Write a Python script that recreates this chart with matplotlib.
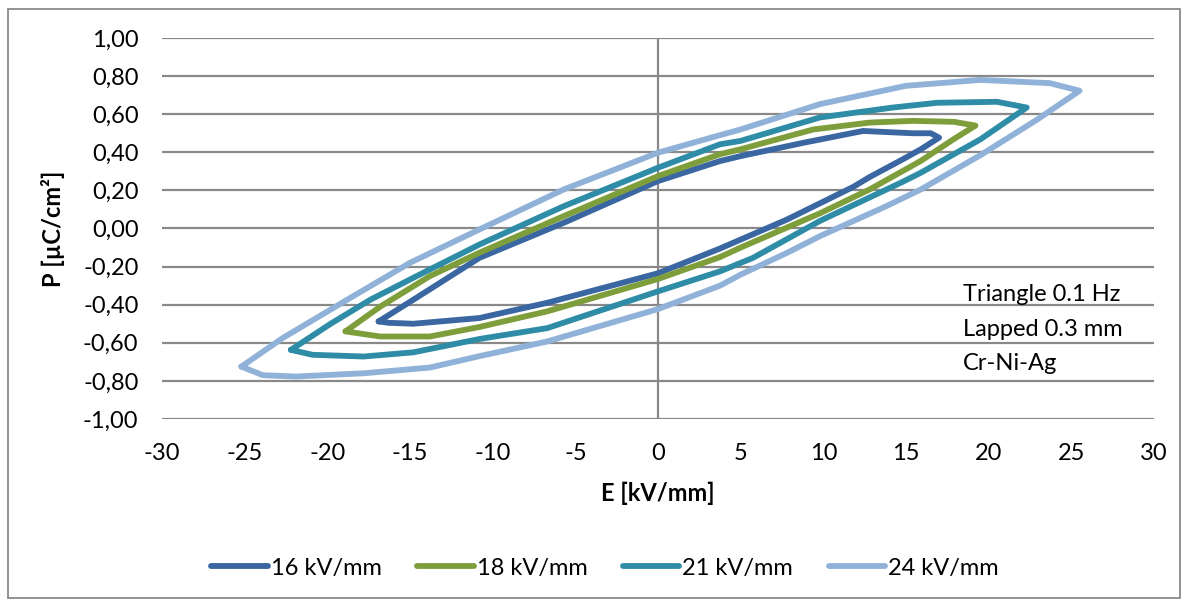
import matplotlib
matplotlib.use("Agg")
from matplotlib import pyplot as plt
from matplotlib.patches import Rectangle
from matplotlib.ticker import FuncFormatter, MultipleLocator

plt.rcParams['font.family'] = ['Lato', 'DejaVu Sans']

# hysteresis loops P(E), traced as closed paths (upper branch, then lower branch)
e16 = [-16.9, -14.8, -10.8, -5.7, 0.0, 3.75, 5.0, 8.8, 12.4, 15.4, 16.5, 17.0,
       15.9, 14.8, 12.8, 11.8, 7.8, 3.75, 0.0, -6.7, -10.8, -14.8, -16.3, -16.9]
p16 = [-0.488, -0.374, -0.154, 0.03, 0.249, 0.354, 0.38, 0.45, 0.512, 0.50, 0.50, 0.477,
       0.416, 0.363, 0.27, 0.218, 0.047, -0.105, -0.235, -0.39, -0.47, -0.50, -0.495, -0.488]

e18 = [-18.9, -16.8, -13.8, -10.8, -5.7, 0.0, 3.75, 5.0, 9.4, 12.8, 15.4, 17.9, 19.2,
       17.9, 15.9, 12.8, 9.8, 5.0, 3.75, 0.0, -6.7, -10.8, -13.8, -16.8, -18.9]
p18 = [-0.54, -0.41, -0.25, -0.127, 0.065, 0.275, 0.39, 0.416, 0.52, 0.556, 0.565, 0.56, 0.54,
       0.47, 0.355, 0.205, 0.08, -0.10, -0.15, -0.265, -0.435, -0.517, -0.567, -0.567, -0.54]

e21 = [-22.2, -19.8, -17.4, -14.6, -10.8, -5.7, 0.0, 3.75, 5.0, 9.8, 14.2, 16.9, 20.5, 22.3,
       19.5, 15.9, 14.8, 9.8, 5.75, 3.75, 0.0, -6.7, -10.8, -14.8, -17.8, -20.9, -22.2]
p21 = [-0.637, -0.50, -0.374, -0.25, -0.084, 0.117, 0.319, 0.442, 0.46, 0.583, 0.635, 0.66, 0.665, 0.635,
       0.468, 0.293, 0.245, 0.04, -0.154, -0.225, -0.33, -0.523, -0.58, -0.65, -0.672, -0.663, -0.637]

e24 = [-25.2, -22.7, -18.8, -15.0, -10.8, -5.7, 0.0, 3.75, 5.0, 9.8, 15.0, 19.5, 23.7, 25.5,
       22.9, 19.5, 15.9, 13.8, 9.8, 7.8, 5.0, 3.75, 0.0, -6.7, -10.8, -13.8, -17.8, -21.9, -23.9, -25.2]
p24 = [-0.725, -0.575, -0.374, -0.18, -0.005, 0.205, 0.398, 0.49, 0.52, 0.653, 0.749, 0.78, 0.763, 0.723,
       0.57, 0.385, 0.205, 0.117, -0.04, -0.128, -0.242, -0.30, -0.423, -0.593, -0.67, -0.73, -0.76, -0.777, -0.77, -0.725]

labels = ["16 kV/mm", "18 kV/mm", "21 kV/mm", "24 kV/mm"]
colors = ["#3A66A1", "#7E9E3B", "#2F8CA6", "#91B2D8"]
notes = ["Triangle 0.1 Hz", "Lapped 0.3 mm", "Cr-Ni-Ag"]

grid_c = "#898989"
fs = 17

fig = plt.figure(figsize=(11.88, 6.0), dpi=100)
fig.patches.append(Rectangle((8 / 1188, 2 / 600), 1172 / 1188, 589 / 600, transform=fig.transFigure,
                             fill=False, edgecolor=grid_c, linewidth=1.3))
ax = fig.add_axes([162 / 1188, 181 / 600, 992 / 1188, 381 / 600])

for e, p, lab, c in zip([e16, e18, e21, e24], [p16, p18, p21, p24], labels, colors):
    ax.plot(e, p, color=c, lw=4.2, label=lab, solid_capstyle='round', solid_joinstyle='round', zorder=3)

ax.set_xlim(-30, 30)
ax.set_ylim(-1.0, 1.0)
ax.xaxis.set_major_locator(MultipleLocator(5))
ax.yaxis.set_major_locator(MultipleLocator(0.2))
ax.xaxis.set_major_formatter(FuncFormatter(lambda v, pos: "%d" % round(v)))
ax.yaxis.set_major_formatter(FuncFormatter(lambda v, pos: ("%.2f" % v).replace(".", ",").replace("-0,00", "0,00")))
ax.grid(axis='y', color=grid_c, lw=1.6)
ax.axvline(0, color=grid_c, lw=1.6, zorder=1)
ax.set_axisbelow(True)
for s in ax.spines.values():
    s.set_visible(False)
ax.tick_params(length=0, labelsize=fs, pad=17)

ax.set_xlabel("E [kV/mm]", fontsize=fs, fontweight='bold', labelpad=13)
ax.set_ylabel("P [µC/cm²]", fontsize=fs, fontweight='bold', labelpad=13)

for i, t in enumerate(notes):
    ax.text(18.45, -0.347 - 0.182 * i, t, fontsize=fs, va='center', ha='left')

fig.legend(loc='center', bbox_to_anchor=(605 / 1188, 1 - 568 / 600), ncol=4, frameon=False,
           fontsize=fs, handlelength=2.4, handletextpad=0.12, columnspacing=1.5)

fig.savefig("out.png", dpi=100)
